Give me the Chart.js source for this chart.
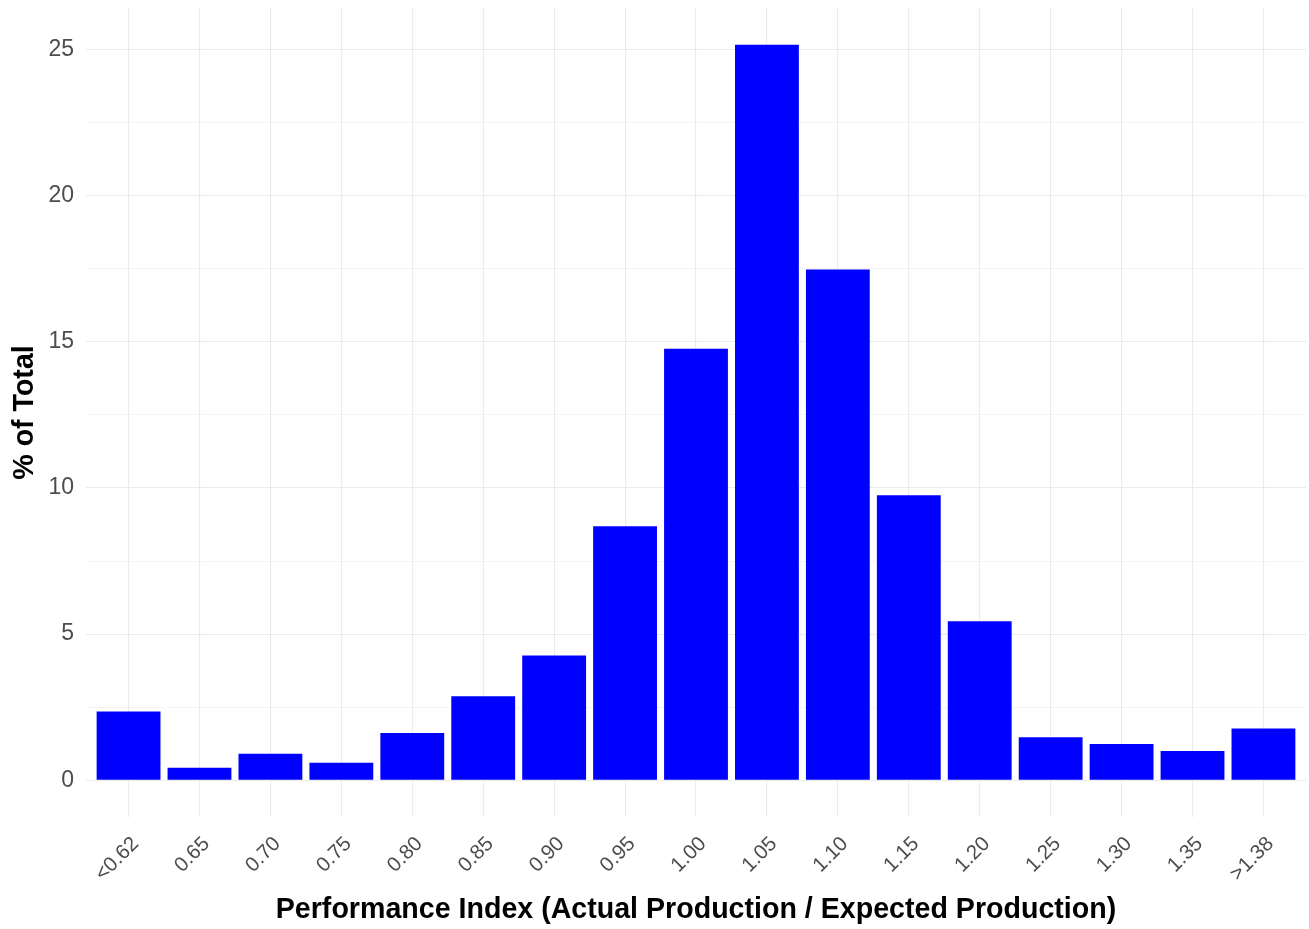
<!DOCTYPE html>
<html>
<head>
<meta charset="utf-8">
<script src="https://cdn.jsdelivr.net/npm/chart.js@4"></script>
<style>
  html, body { margin: 0; padding: 0; background: #fff; }
  #wrap { width: 1309px; height: 929px; }
</style>
</head>
<body>
<div id="wrap"><canvas id="histChart"></canvas></div>
<script>
const categories = ['<0.62', '0.65', '0.70', '0.75', '0.80', '0.85', '0.90', '0.95', '1.00',
  '1.05', '1.10', '1.15', '1.20', '1.25', '1.30', '1.35', '>1.38'];
const pctOfTotal = [2.35, 0.43, 0.91, 0.60, 1.62, 2.87, 4.27, 8.69, 14.77,
  25.17, 17.48, 9.75, 5.44, 1.47, 1.24, 1.00, 1.77];
const yTickValues = [0, 5, 10, 15, 20, 25];

const ctx = document.getElementById('histChart').getContext('2d');
const gridColor = '#EBEBEB';
const tickColor = '#4D4D4D';
const fontFamily = '"Liberation Sans", Arial, sans-serif';

const points = pctOfTotal.map((v, i) => ({ x: i, y: v }));
const yMax = Math.max(...pctOfTotal) * 1.05;
const yMin = -Math.max(...pctOfTotal) * 0.05;

new Chart(ctx, {
  type: 'bar',
  data: {
    datasets: [{
      data: points,
      backgroundColor: '#0000FF',
      borderWidth: 0,
      barPercentage: 0.9,
      categoryPercentage: 1.0
    }]
  },
  options: {
    responsive: true,
    maintainAspectRatio: false,
    animation: false,
    layout: { padding: { top: 8, right: 3, left: 0, bottom: 0 } },
    plugins: {
      legend: { display: false },
      tooltip: { enabled: false }
    },
    scales: {
      x: {
        type: 'linear',
        offset: false,
        min: -0.6,
        max: categories.length - 1 + 0.6,
        border: { display: false },
        grid: { color: gridColor, lineWidth: 1.1, drawTicks: false, offset: false },
        ticks: {
          stepSize: 1,
          includeBounds: false,
          autoSkip: false,
          minRotation: 45,
          maxRotation: 45,
          padding: 15,
          labelOffset: 7,
          color: tickColor,
          font: { family: fontFamily, size: 20.5 },
          callback: (v) => categories[v] ?? ''
        },
        title: {
          display: true,
          text: 'Performance Index (Actual Production / Expected Production)',
          color: '#000',
          padding: { top: 2, bottom: 2 },
          font: { family: fontFamily, size: 28.6, weight: 'bold' }
        },
        afterFit: (scale) => {
          scale.height = 112;
          scale.paddingLeft = 0;
          scale.paddingRight = 0;
        }
      },
      y: {
        min: yMin,
        max: yMax,
        border: { display: false },
        grid: {
          color: gridColor,
          drawTicks: false,
          lineWidth: (c) => (c.tick && yTickValues.includes(c.tick.value)) ? 1.1 : 0.55
        },
        ticks: {
          stepSize: 2.5,
          includeBounds: false,
          padding: 12,
          color: tickColor,
          font: { family: fontFamily, size: 23 },
          callback: (v) => yTickValues.includes(v) ? v : ''
        },
        title: {
          display: true,
          text: '% of Total',
          color: '#000',
          padding: { top: 8, bottom: 0 },
          font: { family: fontFamily, size: 28.6, weight: 'bold' }
        },
        afterFit: (scale) => {
          scale.width = 86;
          scale.paddingTop = 0;
          scale.paddingBottom = 0;
        }
      }
    }
  }
});
</script>
</body>
</html>
